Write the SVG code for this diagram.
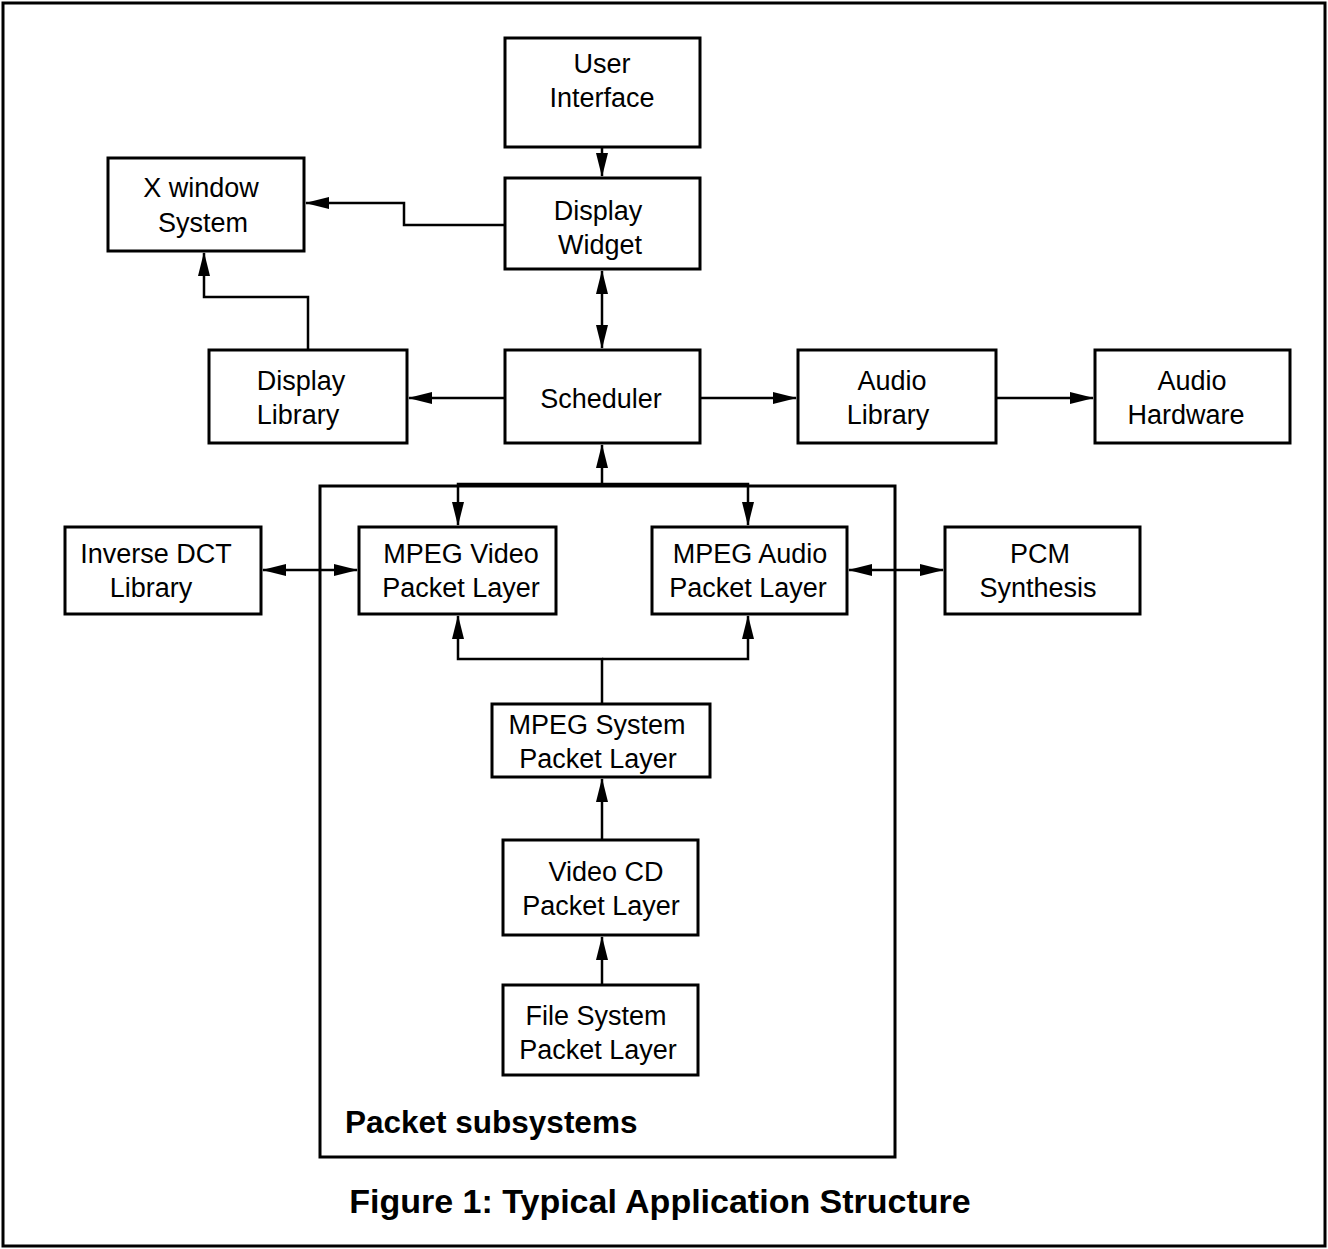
<svg xmlns="http://www.w3.org/2000/svg" width="1328" height="1249" viewBox="0 0 1328 1249">
<style>
.box{fill:#fff;stroke:#000;stroke-width:3}
.t{font-family:"Liberation Sans",Arial,sans-serif;font-size:27px;fill:#000;text-anchor:middle}
.b{font-family:"Liberation Sans",Arial,sans-serif;font-weight:bold;fill:#000}
.c{fill:none;stroke:#000;stroke-width:2.5}
</style>
<defs>
<marker id="ah" markerUnits="userSpaceOnUse" markerWidth="24" markerHeight="12" refX="23" refY="6" orient="auto-start-reverse">
<path d="M0,0 L24,6 L0,12 Z" fill="#000"/>
</marker>
</defs>
<rect x="3" y="3" width="1322" height="1243" fill="#fff" stroke="#000" stroke-width="3"/>
<g id="container">
<rect x="320" y="486" width="575" height="671" fill="none" stroke="#000" stroke-width="3"/>
<text class="b" x="345" y="1133" font-size="31.5">Packet subsystems</text>
</g>
<g id="connectors">
<path class="c" d="M602,148 V176" marker-end="url(#ah)"/>
<path class="c" d="M505,225 H404 V203 H306" marker-end="url(#ah)"/>
<path class="c" d="M308,350 V297 H204 V253" marker-end="url(#ah)"/>
<path class="c" d="M602,271 V348" marker-start="url(#ah)" marker-end="url(#ah)"/>
<path class="c" d="M505,398 H409" marker-end="url(#ah)"/>
<path class="c" d="M700,398 H796" marker-end="url(#ah)"/>
<path class="c" d="M996,398 H1093" marker-end="url(#ah)"/>
<path class="c" d="M602,484 V445" marker-end="url(#ah)"/>
<path class="c" d="M602,484 H458 V525" marker-end="url(#ah)"/>
<path class="c" d="M602,484 H748 V525" marker-end="url(#ah)"/>
<path class="c" d="M602,704 V659 H458 V616" marker-end="url(#ah)"/>
<path class="c" d="M602,659 H748 V616" marker-end="url(#ah)"/>
<path class="c" d="M263,570 H357" marker-start="url(#ah)" marker-end="url(#ah)"/>
<path class="c" d="M849,570 H943" marker-start="url(#ah)" marker-end="url(#ah)"/>
<path class="c" d="M602,840 V779" marker-end="url(#ah)"/>
<path class="c" d="M602,985 V937" marker-end="url(#ah)"/>
</g>
<g id="user-interface">
<rect class="box" x="505" y="38" width="195" height="109"/>
<text class="t" x="602" y="73">User</text>
<text class="t" x="602" y="107">Interface</text>
</g>
<g id="x-window">
<rect class="box" x="108" y="158" width="196" height="93"/>
<text class="t" x="201" y="197">X window</text>
<text class="t" x="203" y="232">System</text>
</g>
<g id="display-widget">
<rect class="box" x="505" y="178" width="195" height="91"/>
<text class="t" x="598" y="220">Display</text>
<text class="t" x="600" y="254">Widget</text>
</g>
<g id="display-library">
<rect class="box" x="209" y="350" width="198" height="93"/>
<text class="t" x="301" y="390">Display</text>
<text class="t" x="298" y="424">Library</text>
</g>
<g id="scheduler">
<rect class="box" x="505" y="350" width="195" height="93"/>
<text class="t" x="601" y="408">Scheduler</text>
</g>
<g id="audio-library">
<rect class="box" x="798" y="350" width="198" height="93"/>
<text class="t" x="892" y="390">Audio</text>
<text class="t" x="888" y="424">Library</text>
</g>
<g id="audio-hardware">
<rect class="box" x="1095" y="350" width="195" height="93"/>
<text class="t" x="1192" y="390">Audio</text>
<text class="t" x="1186" y="424">Hardware</text>
</g>
<g id="inverse-dct">
<rect class="box" x="65" y="527" width="196" height="87"/>
<text class="t" x="156" y="563">Inverse DCT</text>
<text class="t" x="151" y="597">Library</text>
</g>
<g id="mpeg-video">
<rect class="box" x="359" y="527" width="197" height="87"/>
<text class="t" x="461" y="563">MPEG Video</text>
<text class="t" x="461" y="597">Packet Layer</text>
</g>
<g id="mpeg-audio">
<rect class="box" x="652" y="527" width="195" height="87"/>
<text class="t" x="750" y="563">MPEG Audio</text>
<text class="t" x="748" y="597">Packet Layer</text>
</g>
<g id="pcm-synthesis">
<rect class="box" x="945" y="527" width="195" height="87"/>
<text class="t" x="1040" y="563">PCM</text>
<text class="t" x="1038" y="597">Synthesis</text>
</g>
<g id="mpeg-system">
<rect class="box" x="492" y="704" width="218" height="73"/>
<text class="t" x="597" y="734">MPEG System</text>
<text class="t" x="598" y="768">Packet Layer</text>
</g>
<g id="video-cd">
<rect class="box" x="503" y="840" width="195" height="95"/>
<text class="t" x="606" y="881">Video CD</text>
<text class="t" x="601" y="915">Packet Layer</text>
</g>
<g id="file-system">
<rect class="box" x="503" y="985" width="195" height="90"/>
<text class="t" x="596" y="1025">File System</text>
<text class="t" x="598" y="1059">Packet Layer</text>
</g>
<text class="b" x="660" y="1213" font-size="34" text-anchor="middle">Figure 1: Typical Application Structure</text>
</svg>
